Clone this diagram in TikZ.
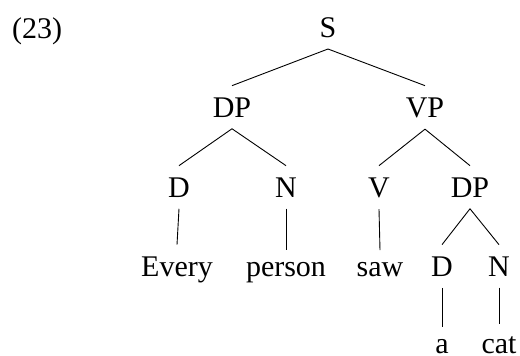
\documentclass[tikz,border=0pt]{standalone}
\usepackage{fontspec}
\setmainfont{Liberation Serif}
\begin{document}
\begin{tikzpicture}[x=1pt,y=-1pt,
  lbl/.style={anchor=base,inner sep=11.5pt,font=\fontsize{30}{36}\selectfont},
  edge/.style={line width=0.9pt}]
\useasboundingbox (0,0) rectangle (520,356);
\node[lbl,anchor=base west,inner sep=0pt] (num) at (12,38) {(23)};
\node[lbl] (s) at (328,37) {S};
\node[lbl] (dp1) at (232,117) {DP};
\node[lbl] (vp) at (425,117) {VP};
\node[lbl] (d1) at (179,197) {D};
\node[lbl] (n1) at (286,197) {N};
\node[lbl] (v) at (379,197) {V};
\node[lbl] (dp2) at (470,197) {DP};
\node[lbl] (every) at (177,276) {Every};
\node[lbl] (person) at (286,276) {person};
\node[lbl] (saw) at (380,276) {saw};
\node[lbl] (d2) at (442,276) {D};
\node[lbl] (n2) at (499,276) {N};
\node[lbl] (a) at (442,353) {a};
\node[lbl] (cat) at (499,353) {cat};
\draw[edge] (s.south) -- (dp1.north);
\draw[edge] (s.south) -- (vp.north);
\draw[edge] (dp1.south) -- (d1.north);
\draw[edge] (dp1.south) -- (n1.north);
\draw[edge] (vp.south) -- (v.north);
\draw[edge] (vp.south) -- (dp2.north);
\draw[edge] (d1.south) -- (every.north);
\draw[edge] (n1.south) -- (person.north);
\draw[edge] (v.south) -- (saw.north);
\draw[edge] (dp2.south) -- (d2.north);
\draw[edge] (dp2.south) -- (n2.north);
\draw[edge] (d2.south) -- (a.north);
\draw[edge] (n2.south) -- (cat.north);
\end{tikzpicture}
\end{document}
